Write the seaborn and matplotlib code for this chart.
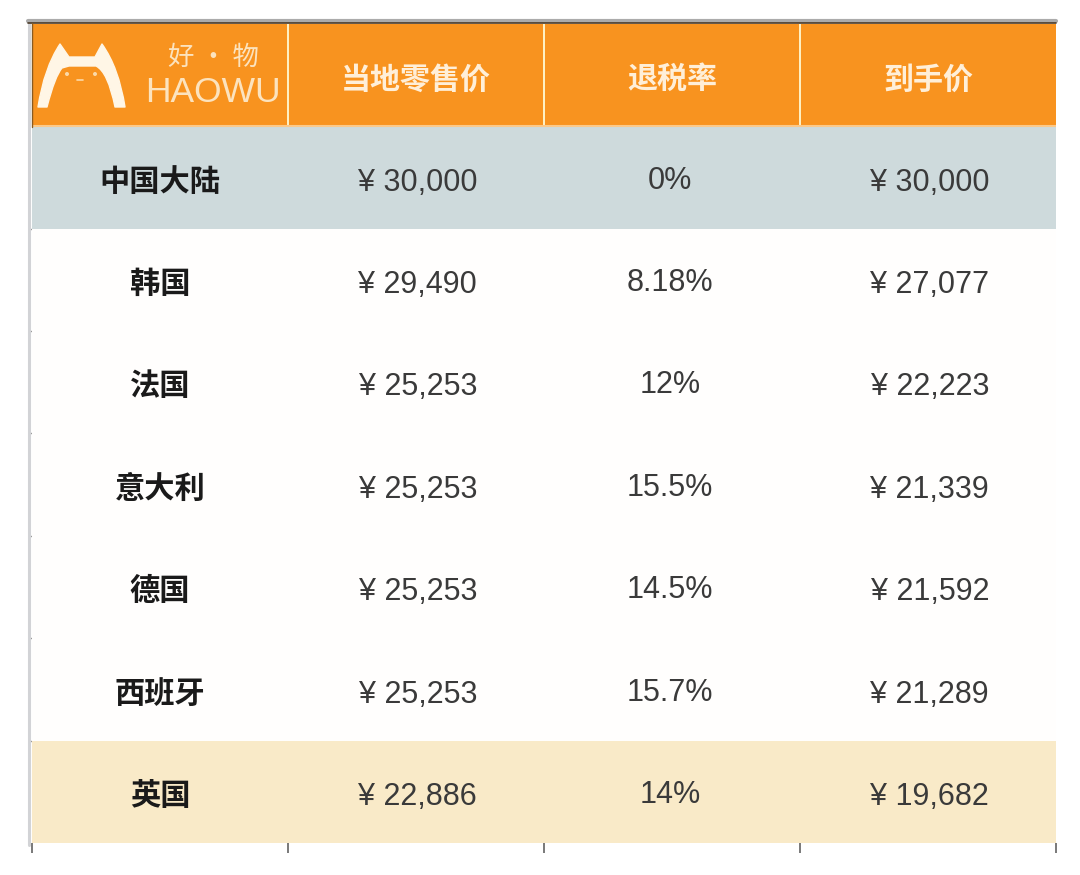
import seaborn as sns
import matplotlib.pyplot as plt
import numpy as np
from matplotlib.colors import ListedColormap
from matplotlib.path import Path
from matplotlib.patches import PathPatch, Circle

sns.set_theme(style="white")
plt.rcParams['font.family'] = ['Liberation Sans', 'Noto Sans CJK SC', 'DejaVu Sans']
CJK = ['Noto Sans CJK SC', 'DejaVu Sans']

# table contents
headers = ["当地零售价", "退税率", "到手价"]
countries = ["中国大陆", "韩国", "法国", "意大利", "德国", "西班牙", "英国"]
retail = ["30,000", "29,490", "25,253", "25,253", "25,253", "25,253", "22,886"]
tax_rate = ["0%", "8.18%", "12%", "15.5%", "14.5%", "15.7%", "14%"]
final = ["30,000", "27,077", "22,223", "21,339", "21,592", "21,289", "19,682"]
# colour group of each row: 0 header, 1 mainland, 2 plain, 3 cheapest
row_group = [0, 1, 2, 2, 2, 2, 2, 3]

W, H = 1080, 875
fig = plt.figure(figsize=(W / 100, H / 100), dpi=100, facecolor="white")
ax = fig.add_axes([32 / W, 1 - 843 / H, 1024 / W, 819 / H])

cells = np.repeat(np.array(row_group)[:, None], 4, axis=1)
cmap = ListedColormap(["#F8931F", "#CEDADC", "#FFFEFD", "#F9EAC8"])
sns.heatmap(cells, ax=ax, cmap=cmap, vmin=-0.5, vmax=3.5, cbar=False,
            xticklabels=False, yticklabels=False)

# ticks on the cell edges
ax.set_xticks(range(5))
ax.set_yticks(range(2, 8))
ax.tick_params(axis="x", bottom=True, length=7, width=1.1, color="#555555", pad=0)
ax.tick_params(axis="y", left=True, length=3, width=1, color="#999999", pad=0)

# header dividers
for c in (1, 2, 3):
    ax.plot([c, c], [0, 1], color="#FFF3C8", lw=1.4, clip_on=False)
ax.plot([0, 4], [1, 1], color="#FBC98A", lw=1.5)

# header text
for c, h in enumerate(headers, start=1):
    ax.text(c + 0.5, 0.54, h, ha="center", va="center", fontsize=21.6,
            family=CJK, color="#FFEFD8", weight="bold")

# table body
for r in range(len(countries)):
    y = r + 1.5
    ax.text(0.5, y + 0.04, countries[r], ha="center", va="center", fontsize=21.8,
            family=CJK, weight="bold", color="#1A1A1A")
    ax.text(1.507, y + 0.05, "¥ " + retail[r], ha="center", va="center",
            fontsize=22, color="#3A3A3A")
    ax.text(2.492, y + 0.03, tax_rate[r], ha="center", va="center",
            fontsize=22, color="#3A3A3A")
    ax.text(3.507, y + 0.05, "¥ " + final[r], ha="center", va="center",
            fontsize=22, color="#3A3A3A")

# overlay in pixels for frame lines and the logo
ov = fig.add_axes([0, 0, 1, 1], facecolor="none")
ov.set_xlim(0, W)
ov.set_ylim(H, 0)
ov.axis("off")
ov.plot([29, 29], [20, 845], color="#D2D3D6", lw=2.2)
ov.plot([28, 1056], [20.5, 20.5], color="#ABABAB", lw=3)
ov.plot([28, 1056], [23, 23], color="#4A3A28", lw=1.2)
ov.plot([31.5, 31.5], [23, 127], color="#8A5A20", lw=1)

# cat logo
codes = [Path.MOVETO, Path.CURVE3, Path.CURVE3, Path.LINETO, Path.LINETO, Path.LINETO,
         Path.CURVE3, Path.CURVE3, Path.LINETO, Path.CURVE3, Path.CURVE3, Path.LINETO,
         Path.LINETO, Path.CURVE3, Path.CURVE3, Path.CLOSEPOLY]
verts = [(38, 107), (44, 68), (60, 44), (69, 57), (95, 57), (102, 44),
         (119, 68), (125, 107), (115, 107), (108, 72), (96, 66), (69, 66),
         (62, 68), (55, 76), (47, 107), (38, 107)]
ov.add_patch(PathPatch(Path(verts, codes), fc="#FFF6E6", ec="#FFF6E6", lw=1, joinstyle="round"))
for x in (67, 95):
    ov.add_patch(Circle((x, 74), 2, fc="#FBD9A8", ec="none"))
ov.plot([77, 83], [80, 80], color="#FBD9A8", lw=1.2)
ov.text(213, 57, "好 · 物", ha="center", va="center", fontsize=19,
        family=CJK, color="#FCE3BE")
ov.text(213, 93, "HAOWU", ha="center", va="center", fontsize=25.5,
        color="#FCE3BE")

fig.savefig("out.png", dpi=100)
plt.close()
